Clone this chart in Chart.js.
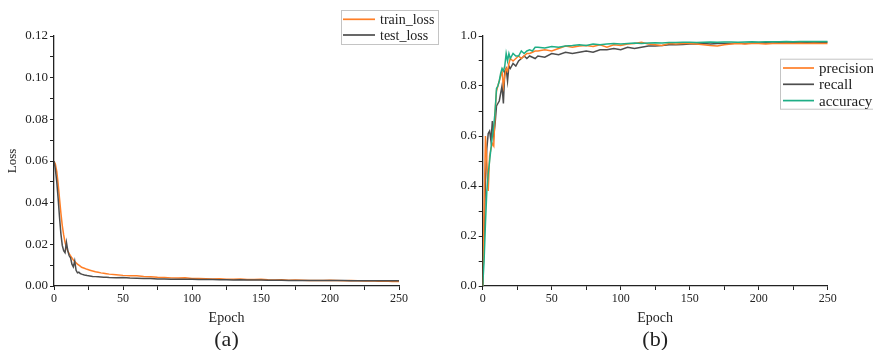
<!DOCTYPE html>
<html><head><meta charset="utf-8">
<script src="https://cdn.jsdelivr.net/npm/chart.js@4.4.0/dist/chart.umd.min.js"></script>
<style>
html,body{margin:0;padding:0;background:#fff;}
#wrap{position:relative;width:873px;height:350px;overflow:hidden;}
canvas{position:absolute;top:0;}
</style></head><body>
<div id="wrap">
<canvas id="ca" width="440" height="350" style="left:0;width:440px;height:350px"></canvas>
<canvas id="cb" width="433" height="350" style="left:440px;width:433px;height:350px"></canvas>
</div>
<script>
const epochs = [0,1,2,3,4,5,6,7,8,9,10,11,12,13,14,15,16,17,18,19,20,22,24,26,28,30,32,34,36,38,40,45,50,55,60,65,70,75,80,85,90,95,100,105,110,115,120,125,130,135,140,145,150,155,160,165,170,175,180,185,190,195,200,205,210,215,220,225,230,235,240,245,250];

const trainLoss = [0.0600,0.0585,0.0550,0.0490,0.0420,0.0350,0.0290,0.0245,0.0210,0.0185,0.0168,0.0155,0.0145,0.0135,0.0125,0.0118,0.0111,0.0105,0.0100,0.0095,0.0090,
  0.0085,0.0080,0.0076,0.0072,0.0068,0.0066,0.0063,0.0061,0.0059,0.0057,
  0.0054,0.0051,0.0049,0.0049,0.0046,0.0044,0.0042,0.0041,0.0039,0.0038,0.0039,0.0036,0.0036,0.0035,0.0034,0.0035,0.0033,0.0032,0.0033,0.0031,0.0031,0.0032,0.0030,0.0029,0.0030,0.0028,0.0029,0.0028,0.0027,0.0027,0.0026,0.0027,0.0026,0.0025,0.0026,0.0025,0.0024,0.0025,0.0023,0.0024,0.0022,0.0022];

const testLoss = [0.0600,0.0560,0.0500,0.0420,0.0330,0.0250,0.0195,0.0170,0.0160,0.0210,0.0170,0.0145,0.0135,0.0105,0.0092,0.0120,0.0075,0.0063,0.0066,0.0060,0.0057,
  0.0053,0.0050,0.0048,0.0046,0.0045,0.0044,0.0043,0.0042,0.0042,0.0041,
  0.0040,0.0041,0.0038,0.0037,0.0036,0.0036,0.0034,0.0034,0.0033,0.0033,0.0032,0.0032,0.0031,0.0031,0.0031,0.0030,0.0030,0.0029,0.0030,0.0029,0.0029,0.0029,0.0028,0.0028,0.0028,0.0027,0.0027,0.0027,0.0027,0.0026,0.0026,0.0026,0.0026,0.0026,0.0025,0.0025,0.0025,0.0025,0.0025,0.0025,0.0025,0.0025];

const precision = [0,0.30,0.60,0.50,0.38,0.52,0.55,0.57,0.56,0.70,0.78,0.80,0.82,0.84,0.86,0.80,0.84,0.87,0.86,0.89,0.91,
  0.90,0.91,0.92,0.91,0.92,0.93,0.93,0.935,0.94,0.94,
  0.945,0.94,0.95,0.96,0.955,0.96,0.962,0.958,0.965,0.955,0.965,0.962,0.968,0.97,0.975,0.968,0.965,0.962,0.97,0.968,0.97,0.97,0.968,0.965,0.962,0.96,0.965,0.968,0.97,0.968,0.97,0.97,0.968,0.97,0.97,0.971,0.97,0.971,0.97,0.971,0.97,0.97];

const recall = [0,0.20,0.42,0.55,0.61,0.62,0.58,0.66,0.60,0.65,0.72,0.73,0.74,0.77,0.80,0.73,0.86,0.87,0.82,0.88,0.87,
  0.89,0.88,0.90,0.91,0.92,0.91,0.92,0.915,0.91,0.92,
  0.915,0.93,0.925,0.935,0.93,0.935,0.94,0.935,0.945,0.945,0.95,0.945,0.955,0.95,0.955,0.96,0.96,0.962,0.965,0.965,0.966,0.968,0.968,0.97,0.968,0.97,0.97,0.97,0.972,0.97,0.972,0.972,0.973,0.972,0.973,0.974,0.973,0.974,0.974,0.975,0.975,0.975];

const accuracy = [0,0.10,0.25,0.38,0.45,0.50,0.55,0.60,0.64,0.70,0.79,0.80,0.82,0.85,0.87,0.86,0.88,0.93,0.90,0.93,0.91,
  0.93,0.92,0.92,0.94,0.93,0.94,0.945,0.94,0.955,0.955,
  0.952,0.958,0.955,0.96,0.962,0.965,0.962,0.968,0.965,0.968,0.97,0.968,0.97,0.972,0.97,0.972,0.973,0.972,0.974,0.974,0.975,0.975,0.974,0.975,0.976,0.975,0.976,0.976,0.975,0.976,0.977,0.976,0.977,0.977,0.977,0.978,0.977,0.978,0.978,0.978,0.978,0.978];

const xTicks = [0,50,100,150,200,250];
const lossTicks = [0,0.02,0.04,0.06,0.08,0.10,0.12];
const metricTicks = [0,0.2,0.4,0.6,0.8,1.0];

const ORANGE = '#ff7f27', GRAY = '#4d4d4d', GREEN = '#1fae86', INK = '#222';
Chart.defaults.font.family = "'Liberation Serif','DejaVu Serif',serif";
Chart.defaults.color = INK;

const pts = (ys) => epochs.map((e, i) => ({x: e, y: ys[i]}));

const legendBox = {
  id: 'legendBox',
  afterDraw(chart, args, o) {
    const ctx = chart.ctx;
    ctx.save();
    ctx.fillStyle = '#fff';
    ctx.fillRect(o.x, o.y, o.w, o.h);
    ctx.strokeStyle = '#c4c4c4';
    ctx.lineWidth = 1;
    ctx.strokeRect(o.x + 0.5, o.y + 0.5, o.w, o.h);
    ctx.font = o.font;
    ctx.textBaseline = 'middle';
    ctx.textAlign = 'left';
    chart.data.datasets.forEach((ds, i) => {
      const y = o.rowY + i * o.rowH;
      ctx.strokeStyle = ds.borderColor;
      ctx.lineWidth = 1.7;
      ctx.beginPath();
      ctx.moveTo(o.x + o.l0, y);
      ctx.lineTo(o.x + o.l1, y);
      ctx.stroke();
      ctx.fillStyle = INK;
      ctx.fillText(ds.label, o.x + o.tx, y + 1);
    });
    const ca = chart.chartArea;
    ctx.font = o.capFont;
    ctx.textAlign = 'center';
    ctx.fillText(o.caption, (ca.left + ca.right) / 2, o.capY);
    ctx.restore();
  }
};

function axisCommon() {
  return {
    grid: {display: true, drawOnChartArea: false, drawTicks: true, tickLength: 4, tickColor: INK, tickWidth: 1},
    border: {display: true, color: INK, width: 1.3}
  };
}

function makeChart(id, datasets, yTicks, yMax, yStep, yDigits, yWidth, padRight, yTitle, legendOpts) {
  const yc = axisCommon(), xc = axisCommon();
  return new Chart(document.getElementById(id), {
    type: 'line',
    data: {datasets},
    options: {
      responsive: false,
      animation: false,
      layout: {padding: {left: 0, right: padRight, top: 36, bottom: 22}},
      elements: {point: {radius: 0}, line: {borderWidth: 1.5, tension: 0}},
      plugins: {legend: {display: false}, tooltip: {enabled: false}, legendBox: legendOpts},
      scales: {
        x: {
          type: 'linear', min: 0, max: 250,
          ...xc,
          ticks: {stepSize: 25, autoSkip: false, maxRotation: 0, padding: 2, font: {size: 12},
            callback: (v) => xTicks.includes(v) ? String(v) : ''},
          title: {display: true, text: 'Epoch', font: {size: 14}, padding: {top: 0, bottom: 1}},
          afterFit: (s) => { s.height = 42; }
        },
        y: {
          type: 'linear', min: 0, max: yMax,
          ...yc,
          ticks: {stepSize: yStep, autoSkip: false, maxTicksLimit: 100, padding: 2, font: {size: 13},
            callback: (v) => yTicks.some(t => Math.abs(t - v) < 1e-9) ? v.toFixed(yDigits) : ''},
          title: {display: !!yTitle, text: yTitle || '', font: {size: 13}, padding: {top: 5, bottom: 0}},
          afterFit: (s) => { s.width = yWidth; }
        }
      }
    },
    plugins: [legendBox]
  });
}

makeChart('ca', [
  {label: 'train_loss', data: pts(trainLoss), borderColor: ORANGE, order: 1},
  {label: 'test_loss', data: pts(testLoss), borderColor: GRAY, order: 0}
], lossTicks, 0.12, 0.01, 2, 54, 41, 'Loss',
  {x: 341, y: 10, w: 97, h: 34, l0: 2, l1: 34, tx: 39, rowY: 19.3, rowH: 15.7, font: '14px "Liberation Serif"', caption: '(a)', capFont: '22px "Liberation Serif"', capY: 340});

makeChart('cb', [
  {label: 'precision', data: pts(precision), borderColor: ORANGE, order: 1},
  {label: 'recall', data: pts(recall), borderColor: GRAY, order: 2},
  {label: 'accuracy', data: pts(accuracy), borderColor: GREEN, order: 0}
], metricTicks, 1.0, 0.1, 1, 42.7, 45.3, null,
  {x: 340, y: 58.7, w: 93, h: 50, l0: 3, l1: 34, tx: 39, rowY: 68, rowH: 16.3, font: '15px "Liberation Serif"', caption: '(b)', capFont: '22px "Liberation Serif"', capY: 340});
</script>
</body></html>
